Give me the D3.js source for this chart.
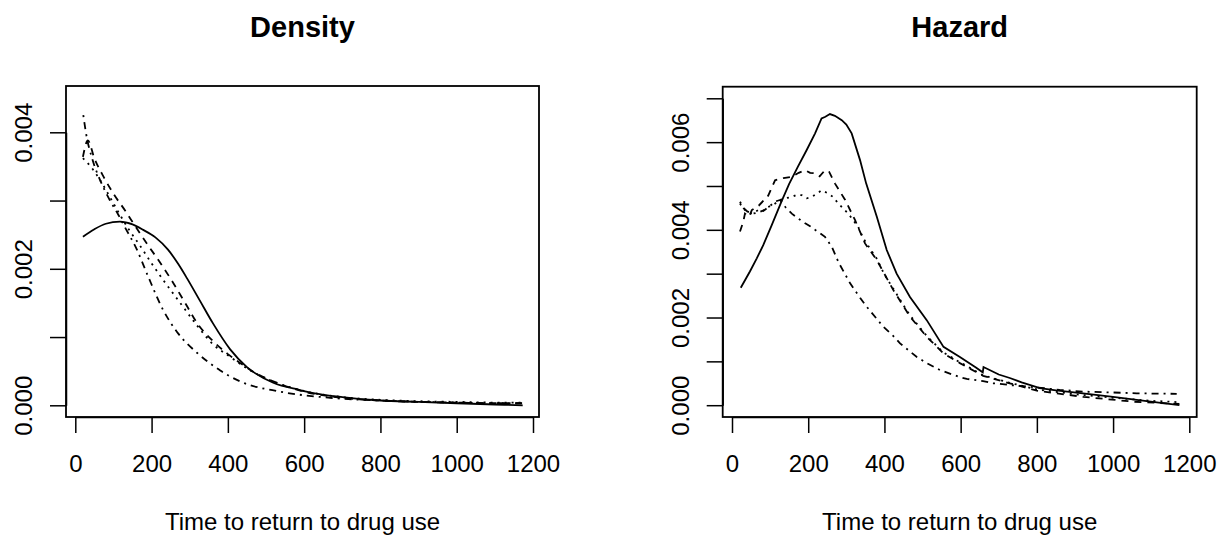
<!DOCTYPE html>
<html lang="en">
<head>
<meta charset="utf-8">
<title>Density and hazard</title>
<script src="https://cdn.jsdelivr.net/npm/d3@7"></script>
<style>
  body { margin: 0; background: #fff; }
  svg text { font-family: "Liberation Sans", Arial, Helvetica, sans-serif; fill: #000; }
</style>
</head>
<body>
<script>
// ---- data: [time, value] ----
var densitySolid = [[20,.00247],[50,.00258],[80,.00266],[117,.00269],[150,.00265],[178,.00257],[210,.00246],[243,.00228],[270,.00207],[293,.00186],[327,.00153],[361,.0012],[406,.00082],[450,.00056],[519,.00033],[589,.000224],[624,.00018],[700,.00012],[800,.00007],[900,.00005],[1000,.00003],[1100,.000012],[1173,0]];
var densityDashed = [[20,.00364],[33,.00388],[50,.00362],[75,.00334],[100,.0031],[131,.00285],[160,.0026],[190,.00235],[220,.00211],[256,.0018],[290,.00148],[320,.0012],[361,.00094],[400,.00075],[432,.00062],[470,.00048],[511,.00037],[600,.0002],[700,.00011],[800,.00007],[900,.00005],[1000,.00004],[1100,.00003],[1173,.00003]];
var densityDotted = [[20,.00362],[40,.0035],[65,.0033],[90,.00306],[112,.00284],[140,.00258],[172,.00232],[200,.00208],[230,.00184],[275,.0015],[319,.00117],[360,.0009],[406,.00071],[450,.00054],[493,.00041],[600,.00021],[700,.00012],[800,.00008],[900,.00006],[1000,.00005],[1100,.00004],[1173,.00004]];
var densityDotDash = [[21,.00425],[28,.00399],[45,.0036],[65,.0033],[90,.00301],[112,.0028],[131,.0026],[160,.0023],[190,.0019],[230,.0014],[270,.00105],[319,.00077],[380,.00051],[432,.00035],[537,.0002],[668,.00011],[800,.00007],[900,.00005],[1000,.00004],[1100,.00003],[1170,.00003]];

var hazardSolid = [[23,.00268],[47,.00305],[65,.00335],[82,.00365],[104,.0041],[130,.00465],[150,.00505],[173,.00544],[196,.00582],[218,.0062],[235,.00654],[245,.00658],[257,.00664],[270,.0066],[288,.0065],[300,.0064],[314,.0062],[336,.00559],[352,.00506],[380,.0043],[406,.00354],[432,.003],[467,.00247],[511,.00194],[555,.00133],[598,.0011],[640,.00086],[658,.00075],[660,.00087],[700,.0007],[729,.00062],[760,.00052],[808,.00039],[850,.00034],[921,.00027],[1000,.00019],[1062,.00012],[1120,.00006],[1174,0]];
var hazardDashed = [[21,.00396],[30,.0042],[34,.00437],[45,.0043],[52,.00445],[70,.00455],[95,.00478],[113,.00513],[135,.00518],[157,.00521],[175,.0053],[192,.00536],[205,.0053],[218,.00529],[230,.00522],[244,.00536],[255,.00532],[270,.00506],[297,.00468],[323,.00422],[349,.00369],[380,.00331],[423,.00263],[467,.00202],[511,.00156],[555,.00118],[598,.00096],[659,.00067],[729,.0005],[800,.00033],[922,.00019],[1053,.00008],[1174,.00003]];
var hazardDotted = [[21,.0046],[28,.0045],[34,.00445],[52,.00437],[69,.00445],[80,.00442],[95,.00452],[110,.00458],[126,.00468],[140,.00472],[157,.00475],[170,.0048],[183,.00479],[196,.00472],[209,.00475],[222,.00482],[235,.0049],[253,.00483],[265,.00475],[279,.0046],[305,.00437],[331,.00407],[345,.0038],[360,.0036],[380,.00334],[400,.00298],[423,.00266],[450,.00228],[467,.00205],[511,.00158],[555,.0012],[598,.00098],[659,.00068],[729,.00051],[800,.00036],[900,.00025],[1000,.00017],[1100,.0001],[1170,.00007]];
var hazardDotDash = [[21,.00464],[30,.0045],[40,.00442],[55,.00437],[70,.0044],[85,.00445],[100,.00455],[115,.00465],[126,.00468],[140,.00452],[157,.00437],[175,.00425],[192,.00415],[205,.00408],[218,.004],[230,.00393],[244,.00384],[262,.00361],[280,.00325],[310,.00278],[336,.00245],[353,.00225],[397,.00179],[423,.00158],[441,.00141],[485,.0011],[511,.00096],[546,.0008],[598,.00064],[616,.0006],[659,.00055],[686,.0005],[740,.00045],[795,.00041],[860,.00035],[922,.00031],[1000,.00029],[1062,.00027],[1167,.00026]];

var xTicks = [0, 200, 400, 600, 800, 1000, 1200];
var densityTicks = [0, 0.001, 0.002, 0.003, 0.004];
var densityLabels = [0, 0.002, 0.004];
var hazardTicks = [0, 0.001, 0.002, 0.003, 0.004, 0.005, 0.006, 0.007];
var hazardLabels = [0, 0.002, 0.004, 0.006];
var xTitle = "Time to return to drug use";

var w = 1227, h = 535;

// dash patterns for lty 1..4
var dashes = { solid: null, dashed: "7,6", dotted: "2,5", dotdash: "2,5,7,5" };

var svg = d3.select("body").append("svg")
  .attr("width", w).attr("height", h);

function drawPanel(opt) {
  var box = opt.box;
  var x = d3.scaleLinear().domain([0, 1200]).range(opt.xRange);
  var y = d3.scaleLinear().domain([0, opt.yTicks[opt.yTicks.length - 1]]).range(opt.yRange);
  var g = svg.append("g");

  // the curves
  var line = d3.line()
    .x(function(d) { return x(d[0]); })
    .y(function(d) { return y(d[1]); })
    .curve(opt.curve);
  opt.series.forEach(function(s) {
    g.append("path")
      .datum(s.data)
      .attr("d", line)
      .attr("fill", "none")
      .attr("stroke", "#000")
      .attr("stroke-width", 1.8)
      .attr("stroke-dasharray", dashes[s.lty]);
  });

  // box
  g.append("rect")
    .attr("x", box.left).attr("y", box.top)
    .attr("width", box.right - box.left).attr("height", box.bottom - box.top)
    .attr("fill", "none").attr("stroke", "#000").attr("stroke-width", 1.8);

  // x axis
  var xa = g.append("g")
    .attr("transform", "translate(0," + box.bottom + ")")
    .call(d3.axisBottom(x).tickValues(xTicks).tickSize(16).tickSizeOuter(0).tickFormat(d3.format("d")));
  xa.selectAll("line, path").attr("stroke", "#000").attr("stroke-width", 1.5);
  xa.selectAll("text")
    .attr("y", 55).attr("dy", 0)
    .style("font-size", "24px");

  // y axis
  var ya = g.append("g")
    .attr("transform", "translate(" + box.left + ",0)")
    .call(d3.axisLeft(y).tickValues(opt.yTicks).tickSize(16).tickSizeOuter(0)
      .tickFormat(function(d) {
        return opt.yLabels.some(function(v) { return Math.abs(v - d) < 1e-9; }) ? d3.format(".3f")(d) : "";
      }));
  ya.selectAll("line, path").attr("stroke", "#000").attr("stroke-width", 1.5);
  ya.selectAll("text")
    .attr("x", 0).attr("y", 0).attr("dy", 0)
    .attr("text-anchor", "middle")
    .attr("transform", "translate(-34,0) rotate(-90)")
    .style("font-size", "24px");

  var cx = (box.left + box.right) / 2;
  g.append("text")
    .attr("x", cx).attr("y", 37)
    .attr("text-anchor", "middle")
    .style("font-size", "29px").style("font-weight", "bold")
    .text(opt.title);
  g.append("text")
    .attr("x", cx).attr("y", 530)
    .attr("text-anchor", "middle")
    .style("font-size", "24px")
    .text(xTitle);
}

drawPanel({
  title: "Density",
  box: { left: 66, right: 539, top: 86, bottom: 417 },
  xRange: [75.3, 533],
  yRange: [405.3, 132.3],
  yTicks: densityTicks,
  yLabels: densityLabels,
  curve: d3.curveMonotoneX,
  series: [
    { data: densitySolid, lty: "solid" },
    { data: densityDashed, lty: "dashed" },
    { data: densityDotted, lty: "dotted" },
    { data: densityDotDash, lty: "dotdash" }
  ]
});

drawPanel({
  title: "Hazard",
  box: { left: 722.7, right: 1196.7, top: 86.7, bottom: 417 },
  xRange: [732, 1189.3],
  yRange: [405.2, 98.3],
  yTicks: hazardTicks,
  yLabels: hazardLabels,
  curve: d3.curveLinear,
  series: [
    { data: hazardSolid, lty: "solid" },
    { data: hazardDashed, lty: "dashed" },
    { data: hazardDotted, lty: "dotted" },
    { data: hazardDotDash, lty: "dotdash" }
  ]
});
</script>
</body>
</html>
